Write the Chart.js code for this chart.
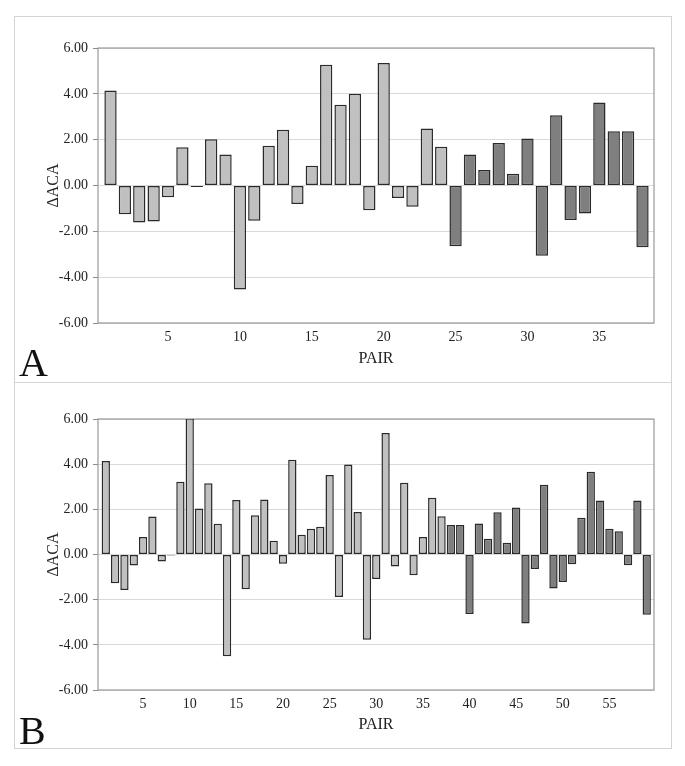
<!DOCTYPE html>
<html>
<head>
<meta charset="UTF-8">
<title>ΔACA by pair</title>
<script src="https://cdn.jsdelivr.net/npm/chart.js"></script>
<style>
    body { margin: 0; background: #fff; font-family: "Liberation Serif", serif; }
    .panel { position: absolute; left: 14px; width: 656px; border: 1px solid #d4d4d4; }
    #panelA { top: 16px; height: 365px; }
    #panelB { top: 382px; height: 366px; border-top: none; }
    .panel canvas { position: absolute; left: 0; top: 0; }
    .tag { position: absolute; left: 19px; font-size: 40px; line-height: 1; color: #111; }
</style>
</head>
<body>
<div class="panel" id="panelA"><canvas id="chartA" width="656" height="365"></canvas></div>
<div class="panel" id="panelB"><canvas id="chartB" width="656" height="366"></canvas></div>
<div class="tag" style="top:343px">A</div>
<div class="tag" style="top:711px">B</div>

<script>
    // panel A: 38 pairs, the first 24 light grey, the rest dark grey
    const deltaA = [4.15, -1.25, -1.61, -1.57, -0.51, 1.67, -0.06, 2.02, 1.35, -4.54,
                    -1.54, 1.73, 2.43, -0.81, 0.86, 5.27, 3.52, 4.00, -1.08, 5.35,
                    -0.55, -0.93, 2.49, 1.69, -2.65, 1.35, 0.68, 1.85, 0.51, 2.05,
                    -3.07, 3.07, -1.51, -1.22, 3.62, 2.37, 2.37, -2.69];
    const lightCountA = 24;
    const pairTicksA = [5, 10, 15, 20, 25, 30, 35];

    // panel B: 59 pairs, the first 37 light grey
    const deltaB = [4.14, -1.27, -1.57, -0.49, 0.77, 1.68, -0.31, -0.04, 3.22, 6.03,
                    2.04, 3.15, 1.36, -4.51, 2.41, -1.54, 1.74, 2.44, 0.61, -0.41,
                    4.20, 0.87, 1.14, 1.23, 3.52, -1.88, 3.99, 1.88, -3.77, -1.08,
                    5.38, -0.53, 3.18, -0.92, 0.77, 2.51, 1.69, 1.31, 1.31, -2.63,
                    1.37, 0.70, 1.87, 0.52, 2.08, -3.06, -0.64, 3.09, -1.50, -1.22,
                    -0.43, 1.63, 3.66, 2.39, 1.14, 1.03, -0.48, 2.39, -2.67];
    const lightCountB = 37;
    const pairTicksB = [5, 10, 15, 20, 25, 30, 35, 40, 45, 50, 55];

    const yTicks = [-6, -4, -2, 0, 2, 4, 6];

    const frame = {
        id: 'frame',
        beforeDatasetsDraw(chart) {
            const a = chart.chartArea;
            const ctx = chart.ctx;
            ctx.save();
            ctx.strokeStyle = '#9a9a9a';
            ctx.lineWidth = 1.2;
            ctx.strokeRect(a.left, a.top, a.right - a.left, a.bottom - a.top);
            ctx.restore();
        }
    };

    function makeChart(id, values, lightCount, pairTicks, xMin, xMax, catPct, xHeight, top) {
        const points = values.map((v, i) => ({ x: i + 1, y: v }));
        const colors = values.map((v, i) => i < lightCount ? '#c0c0c0' : '#7f7f7f');
        return new Chart(document.getElementById(id), {
            type: 'bar',
            data: {
                datasets: [{
                    data: points,
                    backgroundColor: colors,
                    borderColor: '#2a2a2a',
                    borderWidth: 1.5,
                    borderSkipped: false,
                    barPercentage: 1,
                    categoryPercentage: catPct
                }]
            },
            options: {
                responsive: false,
                animation: false,
                layout: { padding: { top: top, right: 17, left: 0, bottom: 0 } },
                plugins: { legend: { display: false }, tooltip: { enabled: false } },
                scales: {
                    x: {
                        type: 'linear',
                        min: xMin, max: xMax,
                        offset: false,
                        afterFit: s => { s.height = xHeight; },
                        afterBuildTicks: s => { s.ticks = pairTicks.map(v => ({ value: v })); },
                        grid: { display: false, drawTicks: false },
                        border: { display: false },
                        ticks: {
                            autoSkip: false, maxRotation: 0, padding: 6,
                            color: '#222', font: { family: 'Liberation Serif', size: 14 },
                            callback: v => v
                        },
                        title: {
                            display: true, text: 'PAIR', color: '#222',
                            font: { family: 'Liberation Serif', size: 16 },
                            padding: { top: 0, bottom: 14 }
                        }
                    },
                    y: {
                        min: -6, max: 6,
                        afterFit: s => { s.width = 83; },
                        afterBuildTicks: s => { s.ticks = yTicks.map(v => ({ value: v })); },
                        grid: { color: '#d9d9d9', tickColor: '#8a8a8a', tickLength: 5, lineWidth: 1 },
                        border: { display: false },
                        ticks: {
                            padding: 5, color: '#222',
                            font: { family: 'Liberation Serif', size: 14 },
                            callback: v => v.toFixed(2)
                        },
                        title: {
                            display: true, text: 'ΔACA', color: '#222',
                            font: { family: 'Liberation Serif', size: 16 },
                            padding: { top: 29, bottom: 0 }
                        }
                    }
                }
            },
            plugins: [frame]
        });
    }

    makeChart('chartA', deltaA, lightCountA, pairTicksA, 0.13, 38.8, 0.855, 59, 31);
    makeChart('chartB', deltaB, lightCountB, pairTicksB, 0.164, 59.78, 0.89, 58, 37);
</script>
</body>
</html>
